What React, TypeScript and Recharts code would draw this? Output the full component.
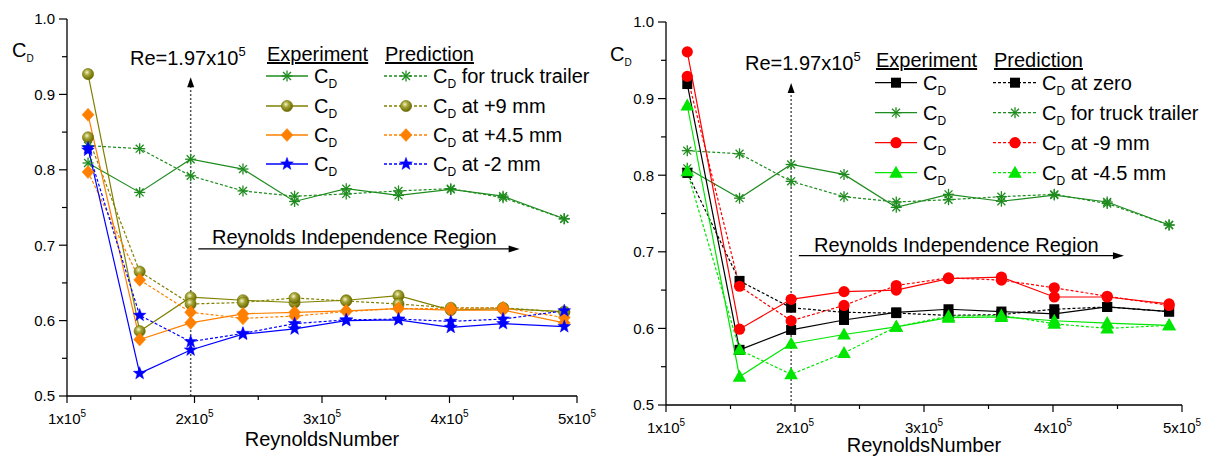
import React from 'react';
import { LineChart, Line, XAxis, YAxis, ReferenceLine, ReferenceDot } from 'recharts';

const FONT = '"Liberation Sans", Arial, Helvetica, sans-serif';

// Reynolds numbers of the measurement / prediction points
const reynolds = [1.165e5, 1.57e5, 1.97e5, 2.38e5, 2.785e5, 3.19e5, 3.6e5, 4.01e5, 4.42e5, 4.9e5];

// Left panel
const truckExp = [0.809, 0.770, 0.814, 0.801, 0.758, 0.775, 0.766, 0.774, 0.765, 0.735];
const truckPred = [0.832, 0.828, 0.792, 0.772, 0.765, 0.768, 0.772, 0.775, 0.763, 0.735];
const plus9Exp = [0.927, 0.586, 0.631, 0.627, 0.624, 0.627, 0.633, 0.614, 0.616, 0.612];
const plus9Pred = [0.843, 0.665, 0.622, 0.624, 0.630, 0.626, 0.622, 0.617, 0.617, 0.611];
const plus45Exp = [0.873, 0.575, 0.597, 0.609, 0.611, 0.613, 0.616, 0.614, 0.614, 0.597];
const plus45Pred = [0.797, 0.654, 0.611, 0.603, 0.606, 0.612, 0.616, 0.616, 0.617, 0.604];
const minus2Exp = [0.829, 0.530, 0.561, 0.582, 0.589, 0.600, 0.601, 0.591, 0.596, 0.592];
const minus2Pred = [0.826, 0.607, 0.572, 0.583, 0.596, 0.601, 0.602, 0.599, 0.602, 0.613];

// Right panel
const zeroExp = [0.919, 0.572, 0.598, 0.611, 0.621, 0.625, 0.622, 0.619, 0.628, 0.622];
const zeroPred = [0.803, 0.662, 0.627, 0.621, 0.620, 0.617, 0.618, 0.625, 0.628, 0.622];
const minus9Exp = [0.961, 0.599, 0.638, 0.648, 0.650, 0.665, 0.667, 0.641, 0.641, 0.632];
const minus9Pred = [0.929, 0.655, 0.610, 0.630, 0.656, 0.666, 0.663, 0.653, 0.642, 0.630];
const minus45Exp = [0.891, 0.537, 0.580, 0.592, 0.602, 0.614, 0.615, 0.610, 0.607, 0.604];
const minus45Pred = [0.805, 0.572, 0.540, 0.568, 0.602, 0.616, 0.617, 0.606, 0.600, 0.604];

// Axes
const xTicks = [1e5, 1.5e5, 2e5, 2.5e5, 3e5, 3.5e5, 4e5, 4.5e5, 5e5];
const yTicks = [0.5, 0.55, 0.6, 0.65, 0.7, 0.75, 0.8, 0.85, 0.9, 0.95, 1.0];
const criticalRe = 1.97e5;
const independenceStart = 2.03e5;
const independenceEnd = 4.55e5;
const independenceLevel = 0.695;

// Legend labels
const leftPredLabels = [' for truck trailer', ' at +9 mm', ' at +4.5 mm', ' at -2 mm'];
const rightPredLabels = [' at zero', ' for truck trailer', ' at -9 mm', ' at -4.5 mm'];

const GREEN = '#1f8c1f';
const OLIVE = '#808000';
const ORANGE = '#ff8000';
const BLUE = '#0000ff';
const BLACK = '#000000';
const RED = '#ff0000';
const LIME = '#00e600';

const leftData = reynolds.map((re, i) => ({
  re,
  truckExp: truckExp[i], truckPred: truckPred[i],
  plus9Exp: plus9Exp[i], plus9Pred: plus9Pred[i],
  plus45Exp: plus45Exp[i], plus45Pred: plus45Pred[i],
  minus2Exp: minus2Exp[i], minus2Pred: minus2Pred[i],
}));
const rightData = reynolds.map((re, i) => ({
  re,
  zeroExp: zeroExp[i], zeroPred: zeroPred[i],
  truckExp: truckExp[i], truckPred: truckPred[i],
  minus9Exp: minus9Exp[i], minus9Pred: minus9Pred[i],
  minus45Exp: minus45Exp[i], minus45Pred: minus45Pred[i],
}));

type Series = { key: string; color: string; marker: string; dashed: boolean };

const leftSeries: Series[] = [
  { key: 'truckExp', color: GREEN, marker: 'asterisk', dashed: false },
  { key: 'truckPred', color: GREEN, marker: 'asterisk', dashed: true },
  { key: 'plus9Exp', color: OLIVE, marker: 'sphere', dashed: false },
  { key: 'plus9Pred', color: OLIVE, marker: 'sphere', dashed: true },
  { key: 'plus45Exp', color: ORANGE, marker: 'diamond', dashed: false },
  { key: 'plus45Pred', color: ORANGE, marker: 'diamond', dashed: true },
  { key: 'minus2Exp', color: BLUE, marker: 'star', dashed: false },
  { key: 'minus2Pred', color: BLUE, marker: 'star', dashed: true },
];
const rightSeries: Series[] = [
  { key: 'truckExp', color: GREEN, marker: 'asterisk', dashed: false },
  { key: 'truckPred', color: GREEN, marker: 'asterisk', dashed: true },
  { key: 'zeroExp', color: BLACK, marker: 'square', dashed: false },
  { key: 'zeroPred', color: BLACK, marker: 'square', dashed: true },
  { key: 'minus9Exp', color: RED, marker: 'circle', dashed: false },
  { key: 'minus9Pred', color: RED, marker: 'circle', dashed: true },
  { key: 'minus45Exp', color: LIME, marker: 'triangle', dashed: false },
  { key: 'minus45Pred', color: LIME, marker: 'triangle', dashed: true },
];

const Marker = ({ kind, cx, cy, color }: any) => {
  if (cx == null || cy == null || isNaN(cx) || isNaN(cy)) return null;
  switch (kind) {
    case 'asterisk': {
      const r = 5.5, d = r * 0.72;
      return (
        <g stroke={color} strokeWidth={1.3} fill="none" strokeDasharray="none">
          <line x1={cx - r} y1={cy} x2={cx + r} y2={cy} />
          <line x1={cx} y1={cy - r} x2={cx} y2={cy + r} />
          <line x1={cx - d} y1={cy - d} x2={cx + d} y2={cy + d} />
          <line x1={cx - d} y1={cy + d} x2={cx + d} y2={cy - d} />
        </g>
      );
    }
    case 'sphere':
      return (
        <g>
          <defs>
            <radialGradient id="olvSphere" cx="0.4" cy="0.35" r="0.65">
              <stop offset="0" stopColor="#f4f4c8" />
              <stop offset="0.4" stopColor="#a4a436" />
              <stop offset="1" stopColor="#676700" />
            </radialGradient>
          </defs>
          <circle cx={cx} cy={cy} r={5.6} fill="url(#olvSphere)" stroke="#707000" strokeWidth={0.6} strokeDasharray="none" />
        </g>
      );
    case 'diamond':
      return <polygon points={`${cx},${cy - 6.5} ${cx + 6},${cy} ${cx},${cy + 6.5} ${cx - 6},${cy}`} fill={color} stroke={color} strokeWidth={0.5} strokeDasharray="none" />;
    case 'star': {
      const pts: string[] = [];
      for (let i = 0; i < 10; i++) {
        const r = i % 2 === 0 ? 6.8 : 2.8;
        const a = -Math.PI / 2 + (i * Math.PI) / 5;
        pts.push(`${cx + r * Math.cos(a)},${cy + r * Math.sin(a)}`);
      }
      return <polygon points={pts.join(' ')} fill={color} stroke={color} strokeWidth={0.4} strokeDasharray="none" />;
    }
    case 'square':
      return <rect x={cx - 5} y={cy - 5} width={10} height={10} fill={color} strokeDasharray="none" />;
    case 'circle':
      return <circle cx={cx} cy={cy} r={5.6} fill={color} strokeDasharray="none" />;
    case 'triangle':
      return <polygon points={`${cx},${cy - 7} ${cx + 6.8},${cy + 5} ${cx - 6.8},${cy + 5}`} fill={color} strokeDasharray="none" />;
    default:
      return null;
  }
};

const XTick = ({ x, y, payload }: any) => {
  const v = payload.value / 1e5;
  const major = Math.abs(v - Math.round(v)) < 1e-6;
  return (
    <g>
      <line x1={x} x2={x} y1={y} y2={y + (major ? 7 : 4)} stroke="#000" strokeWidth={1.2} />
      {major && (
        <text x={x} y={y + 28} textAnchor="middle" fontSize={15} fontFamily={FONT} fill="#000">
          {`${Math.round(v)}x10`}
          <tspan dy={-7} fontSize={10}>5</tspan>
        </text>
      )}
    </g>
  );
};

const YTick = ({ x, y, payload }: any) => {
  const v = payload.value;
  const major = Math.abs(v * 10 - Math.round(v * 10)) < 1e-6;
  return (
    <g>
      <line x1={x - (major ? 8 : 5)} x2={x} y1={y} y2={y} stroke="#000" strokeWidth={1.2} />
      {major && (
        <text x={x - 12} y={y} dy="0.36em" textAnchor="end" fontSize={15} fontFamily={FONT} fill="#000">
          {v.toFixed(1)}
        </text>
      )}
    </g>
  );
};

const upArrow = (p: any) => (
  <polygon points={`${p.cx},${p.cy} ${p.cx + 3.5},${p.cy + 10} ${p.cx - 3.5},${p.cy + 10}`} fill="#000" />
);
const rightArrow = (p: any) => (
  <polygon points={`${p.cx},${p.cy} ${p.cx - 11},${p.cy - 3.5} ${p.cx - 11},${p.cy + 3.5}`} fill="#000" />
);

function Panel({ data, series, width, margin, arrowTip }: any) {
  return (
    <LineChart width={width} height={459} data={data} margin={margin}>
      <XAxis
        dataKey="re" type="number" domain={[1e5, 5e5]} ticks={xTicks} interval={0}
        tickLine={false} tickSize={0} tickMargin={0} tick={<XTick />} height={30}
        axisLine={{ stroke: '#000', strokeWidth: 1.3 }} allowDataOverflow
      />
      <YAxis
        type="number" domain={[0.5, 1.0]} ticks={yTicks} interval={0}
        tickLine={false} tickSize={0} tickMargin={0} tick={<YTick />} width={40}
        axisLine={{ stroke: '#000', strokeWidth: 1.3 }} allowDataOverflow
      />
      <ReferenceLine
        segment={[{ x: criticalRe, y: 0.5 }, { x: criticalRe, y: arrowTip - 0.01 }]}
        stroke="#555" strokeWidth={1.5} strokeDasharray="2 2"
      />
      <ReferenceDot x={criticalRe} y={arrowTip} r={0} shape={upArrow} />
      <ReferenceLine
        segment={[{ x: independenceStart, y: independenceLevel }, { x: independenceEnd - 0.05e5, y: independenceLevel }]}
        stroke="#000" strokeWidth={1.2}
      />
      <ReferenceDot x={independenceEnd} y={independenceLevel} r={0} shape={rightArrow} />
      {series.map((s: Series) => (
        <Line
          key={s.key}
          dataKey={s.key}
          type="linear"
          stroke={s.color}
          strokeWidth={1.2}
          strokeDasharray={s.dashed ? '3 2' : undefined}
          isAnimationActive={false}
          activeDot={false}
          dot={(p: any) => <Marker key={`${s.key}-${p.index}`} kind={s.marker} cx={p.cx} cy={p.cy} color={s.color} />}
        />
      ))}
    </LineChart>
  );
}

const CD = ({ x, y, size = 20, sub = 12, rest }: any) => (
  <text x={x} y={y} fontSize={size} fontFamily={FONT} fill="#000">
    C
    <tspan dy={5} fontSize={sub}>D</tspan>
    {rest ? <tspan dy={-5} fontSize={size}>{rest}</tspan> : null}
  </text>
);

function LegendBlock({ x0, headY, rows, items, predLabels }: any) {
  const expLine = [x0, x0 + 42];
  const expMark = x0 + 21;
  const expText = x0 + 48;
  const predLine = [x0 + 118, x0 + 161];
  const predMark = x0 + 140;
  const predText = x0 + 167;
  return (
    <g>
      <text x={x0 + 1} y={headY} fontSize={20} fontFamily={FONT} style={{ textDecoration: 'underline' }}>Experiment</text>
      <text x={x0 + 119} y={headY} fontSize={20} fontFamily={FONT} style={{ textDecoration: 'underline' }}>Prediction</text>
      {items.map((it: any, i: number) => {
        const cy = rows[i];
        return (
          <g key={i}>
            <line x1={expLine[0]} x2={expLine[1]} y1={cy} y2={cy} stroke={it.color} strokeWidth={1.3} />
            <Marker kind={it.marker} cx={expMark} cy={cy} color={it.color} />
            <CD x={expText} y={cy + 7} />
            <line x1={predLine[0]} x2={predLine[1]} y1={cy} y2={cy} stroke={it.color} strokeWidth={1.3} strokeDasharray="3 2" />
            <Marker kind={it.marker} cx={predMark} cy={cy} color={it.color} />
            <CD x={predText} y={cy + 7} rest={predLabels[i]} />
          </g>
        );
      })}
    </g>
  );
}

const ReLabel = ({ x, y }: any) => (
  <text x={x} y={y} fontSize={20} fontFamily={FONT} fill="#000">
    Re=1.97x10<tspan dy={-9} fontSize={13}>5</tspan>
  </text>
);

export default function App() {
  const leftItems = [
    { color: GREEN, marker: 'asterisk' },
    { color: OLIVE, marker: 'sphere' },
    { color: ORANGE, marker: 'diamond' },
    { color: BLUE, marker: 'star' },
  ];
  const rightItems = [
    { color: BLACK, marker: 'square' },
    { color: GREEN, marker: 'asterisk' },
    { color: RED, marker: 'circle' },
    { color: LIME, marker: 'triangle' },
  ];
  return (
    <div style={{ position: 'absolute', left: 0, top: 0, width: 1209, height: 459, background: '#fff', fontFamily: FONT }}>
      <div style={{ position: 'absolute', left: 0, top: 0 }}>
        <Panel data={leftData} series={leftSeries} width={600}
          margin={{ top: 19, right: 23, bottom: 33, left: 27 }} arrowTip={0.9226} />
      </div>
      <div style={{ position: 'absolute', left: 600, top: 0 }}>
        <Panel data={rightData} series={rightSeries} width={609}
          margin={{ top: 22, right: 27, bottom: 24, left: 26 }} arrowTip={0.9205} />
      </div>
      <svg width={1209} height={459} style={{ position: 'absolute', left: 0, top: 0, pointerEvents: 'none' }}>
        <CD x={12} y={57} size={20} sub={10} />
        <CD x={610} y={61} size={20} sub={10} />
        <text x={322} y={446} textAnchor="middle" fontSize={20} fontFamily={FONT}>ReynoldsNumber</text>
        <text x={924} y={452} textAnchor="middle" fontSize={20} fontFamily={FONT}>ReynoldsNumber</text>
        <ReLabel x={130} y={65} />
        <ReLabel x={745} y={70} />
        <text x={212} y={244} fontSize={20} fontFamily={FONT}>Reynolds Independence Region</text>
        <text x={814} y={252} fontSize={20} fontFamily={FONT}>Reynolds Independence Region</text>
        <LegendBlock x0={266} headY={61} rows={[76, 106, 135, 164]} items={leftItems} predLabels={leftPredLabels} />
        <LegendBlock x0={875} headY={67} rows={[82.7, 112.7, 142.7, 172.7]} items={rightItems} predLabels={rightPredLabels} />
      </svg>
    </div>
  );
}
